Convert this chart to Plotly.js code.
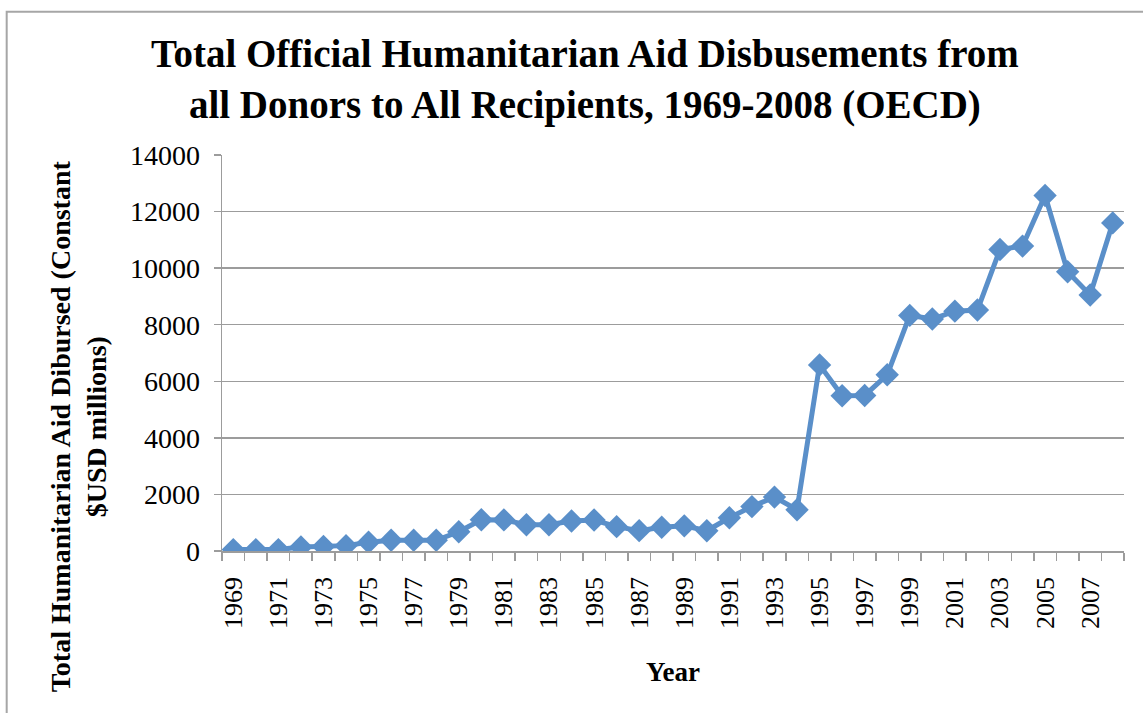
<!DOCTYPE html>
<html>
<head>
<meta charset="utf-8">
<script src="https://cdn.plot.ly/plotly-3.0.1.min.js"></script>
<style>
  html, body { margin: 0; padding: 0; background: #ffffff; }
  #chart { width: 1143px; height: 713px; }
</style>
</head>
<body>
<div id="chart"></div>
<script>
// Humanitarian aid disbursed per year, constant USD millions
const years = [
  1969, 1970, 1971, 1972, 1973, 1974, 1975, 1976, 1977, 1978,
  1979, 1980, 1981, 1982, 1983, 1984, 1985, 1986, 1987, 1988,
  1989, 1990, 1991, 1992, 1993, 1994, 1995, 1996, 1997, 1998,
  1999, 2000, 2001, 2002, 2003, 2004, 2005, 2006, 2007, 2008
];
const aidDisbursed = [
  50, 50, 50, 140, 160, 190, 310, 380, 380, 380,
  680, 1105, 1100, 930, 930, 1060, 1095, 860, 720, 840,
  890, 715, 1175, 1570, 1905, 1460, 6580, 5490, 5500, 6230,
  8330, 8200, 8480, 8520, 10660, 10780, 12570, 9870, 9050, 11600
];
// Every other year is labelled on the axis
const labelYears = years.filter((y, i) => i % 2 === 0);
const labelText = labelYears.map(String);

const chartTitle = 'Total Official Humanitarian Aid Disbusements from<br>all Donors to All Recipients, 1969-2008 (OECD)';
const xTitle = 'Year';
const yTitle = 'Total Humanitarian Aid Dibursed (Constant<br>$USD millions)';

const gridGrey = '#9c9c9c';
const lineBlue = '#5a8fc9';
const serif = 'Liberation Serif, Times New Roman, serif';

const trace = {
  x: years,
  y: aidDisbursed,
  type: 'scatter',
  mode: 'lines+markers',
  line: { color: lineBlue, width: 5 },
  marker: { symbol: 'diamond', size: 18, color: lineBlue },
  hoverinfo: 'x+y'
};

const layout = {
  width: 1143,
  height: 713,
  paper_bgcolor: '#ffffff',
  plot_bgcolor: '#ffffff',
  showlegend: false,
  font: { family: serif, size: 26, color: '#000000' },
  margin: { l: 222, r: 19, t: 155, b: 162, pad: 0 },
  xaxis: {
    type: 'linear',
    range: [1968.5, 2008.5],
    tickmode: 'array',
    tickvals: labelYears,
    ticktext: labelText,
    ticks: '',
    tickangle: -90,
    tickfont: { family: serif, size: 26, color: '#000000' },
    ticklabelstandoff: 14,
    showgrid: false,
    zeroline: false,
    showline: true,
    linecolor: gridGrey,
    linewidth: 1.5,
    minor: {
      tickmode: 'linear',
      tick0: 1968.5,
      dtick: 1,
      ticks: 'outside',
      ticklen: 8,
      tickwidth: 1.5,
      tickcolor: gridGrey,
      showgrid: false
    }
  },
  yaxis: {
    range: [0, 14000],
    tickmode: 'linear',
    tick0: 0,
    dtick: 2000,
    tickformat: 'd',
    ticks: 'outside',
    ticklen: 7,
    tickwidth: 1.5,
    tickcolor: gridGrey,
    tickfont: { family: serif, size: 28, color: '#000000' },
    ticklabelstandoff: 8,
    showgrid: true,
    gridcolor: gridGrey,
    gridwidth: 1.5,
    zeroline: false,
    showline: true,
    linecolor: gridGrey,
    linewidth: 1.5
  },
  annotations: [
    {
      text: '<b>' + chartTitle + '</b>',
      xref: 'paper', yref: 'paper',
      x: 0.402, y: 1.1916,
      xanchor: 'center', yanchor: 'middle',
      showarrow: false,
      font: { family: serif, size: 39, color: '#000000' }
    },
    {
      text: '<b>' + xTitle + '</b>',
      xref: 'paper', yref: 'paper',
      x: 0.4996, y: -0.306,
      xanchor: 'center', yanchor: 'middle',
      showarrow: false,
      font: { family: serif, size: 27, color: '#000000' }
    },
    {
      text: '<b>' + yTitle + '</b>',
      xref: 'paper', yref: 'paper',
      x: -0.159, y: 0.314,
      xanchor: 'center', yanchor: 'middle',
      textangle: -90,
      showarrow: false,
      font: { family: serif, size: 28, color: '#000000' }
    }
  ],
  shapes: [{
    type: 'rect',
    xref: 'paper', yref: 'paper',
    x0: -0.2387, x1: 1.05,
    y0: -0.5, y1: 1.362,
    line: { color: '#a6a6a6', width: 2 },
    fillcolor: 'rgba(0,0,0,0)',
    layer: 'below'
  }]
};

Plotly.newPlot('chart', [trace], layout, { displayModeBar: false, staticPlot: true });
</script>
</body>
</html>
